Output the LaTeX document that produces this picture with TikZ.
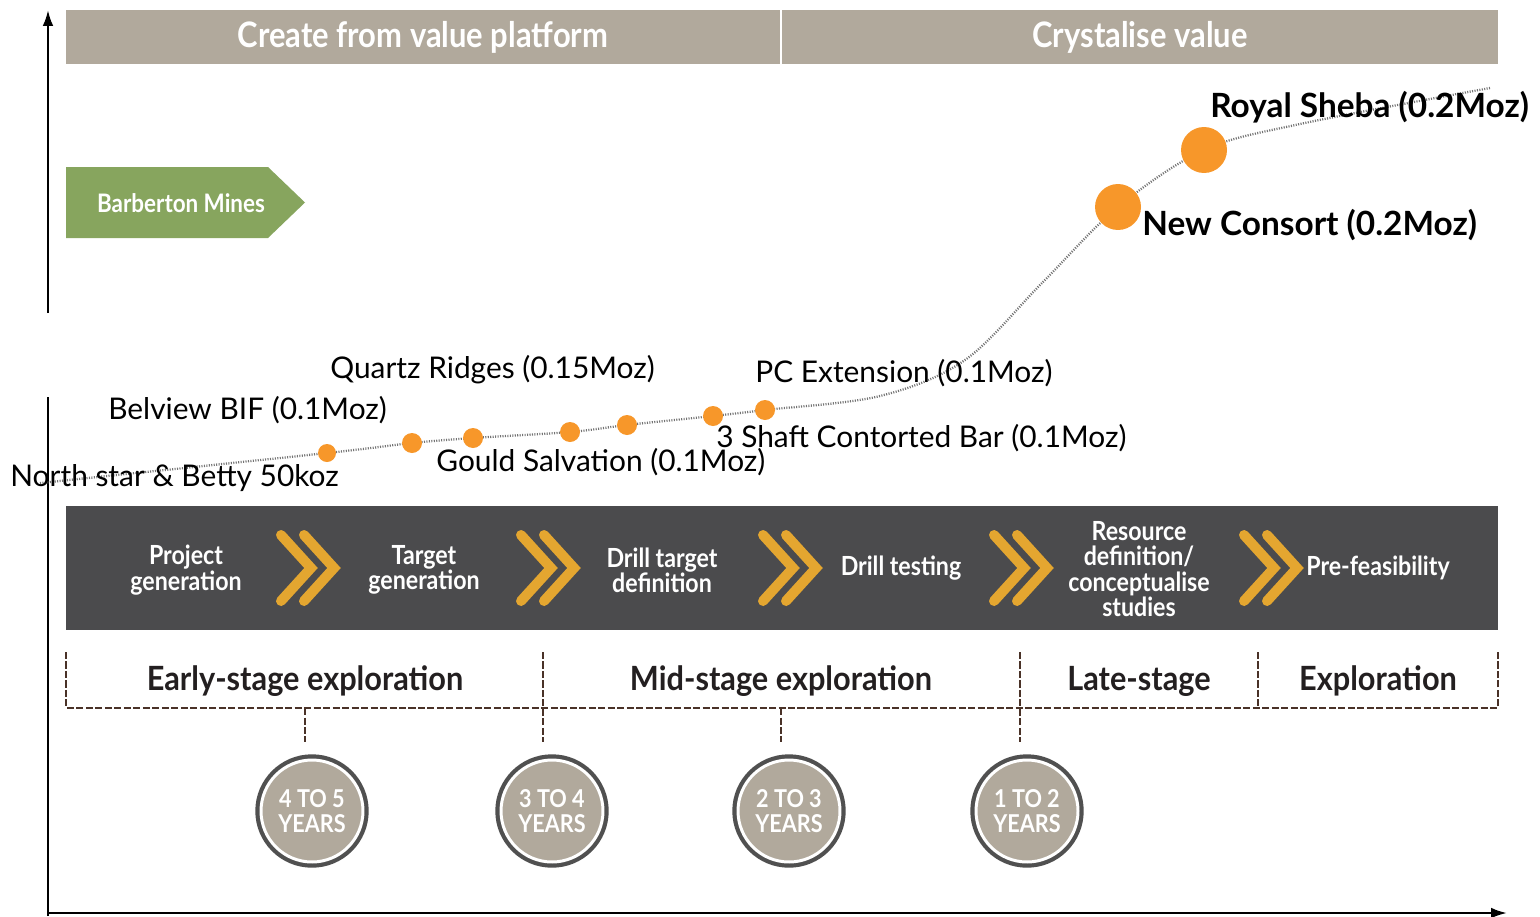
\documentclass[tikz,border=0pt]{standalone}
\usepackage{fontspec}
\setmainfont{Lato}
\newfontfamily\condfont[FakeStretch=0.88]{Lato}
\newfontfamily\semicondfont[FakeStretch=0.92]{Lato}
\usetikzlibrary{arrows.meta}
\definecolor{bannergray}{HTML}{B1A99C}
\definecolor{mgreen}{HTML}{87A55E}
\definecolor{bandgray}{HTML}{4B4B4D}
\definecolor{chevorange}{HTML}{E4A630}
\definecolor{dotorange}{HTML}{F7972A}
\definecolor{dashbrown}{HTML}{4A3228}
\definecolor{ringgray}{HTML}{505050}
\definecolor{darktext}{HTML}{231F20}
\tikzset{
  axisline/.style={line width=1.3pt, black},
  bannerbox/.style={fill=bannergray, minimum height=1.08cm, inner sep=0pt, text=white, font=\condfont\bfseries\fontsize{20pt}{23pt}\selectfont},
  lbl/.style={inner sep=0pt, font=\fontsize{17pt}{20pt}\selectfont, text=black},
  blbl/.style={inner sep=0pt, font=\bfseries\fontsize{19pt}{22pt}\selectfont, text=black},
  smalldot/.style={circle, fill=dotorange, inner sep=0pt, minimum size=0.4cm},
  bigdot/.style={circle, fill=dotorange, inner sep=0pt, minimum size=0.92cm},
  trend/.style={black!55, line width=1.3pt, dash pattern=on 0.6pt off 0.8pt},
  bandtext/.style={text=white, align=center, inner sep=0pt, font=\condfont\bfseries\fontsize{15pt}{14.4pt}\selectfont},
  chevstroke/.style={chevorange, line width=0.2cm, line cap=round, line join=miter},
  dchev/.pic={
    \draw[chevstroke] (6,-33) -- (36,0) -- (6,33);
    \draw[chevstroke] (29,-33) -- (59,0) -- (29,33);
  },
  bracket/.style={dashbrown, line width=0.9pt, dash pattern=on 4pt off 1.4pt},
  stagetext/.style={text=darktext, inner sep=0pt, font=\semicondfont\bfseries\fontsize{19pt}{22pt}\selectfont},
  yrs/.style={circle, minimum size=2.04cm, inner sep=0pt, fill=bannergray, draw=white, line width=1.7pt,
    preaction={draw=ringgray, line width=6.5pt},
    text=white, align=center, font=\condfont\bfseries\fontsize{14pt}{14.6pt}\selectfont},
}
\begin{document}
\begin{tikzpicture}[x=0.02cm, y=-0.02cm]
\useasboundingbox (0,0) rectangle (1540,916);

% axes
\draw[axisline] (48,916) -- (48,397);
\draw[axisline, -{Latex[length=9pt,width=6pt]}] (48,313) -- (48,10);
\draw[axisline, -{Latex[length=9pt,width=6pt]}] (48,913) -- (1507,913);

% top banner
\node[bannerbox, minimum width=14.28cm] (b1) at (423,37) {Create from value platform};
\node[bannerbox, minimum width=14.32cm] (b2) at (1140,37) {Crystalise value};

% Barberton Mines
\fill[mgreen] (66,167) -- (268,167) -- (305,202.5) -- (268,238) -- (66,238) -- cycle;
\node[text=white, inner sep=0pt, font=\condfont\bfseries\fontsize{14.5pt}{16pt}\selectfont] (bm) at (181,203) {Barberton Mines};

% trend points
\coordinate (d1) at (327,453);
\coordinate (d2) at (412,443);
\coordinate (d3) at (473,438);
\coordinate (d4) at (570,432);
\coordinate (d5) at (627,425);
\coordinate (d6) at (713,416);
\coordinate (d7) at (765,410);
\coordinate (d8) at (1118,207);
\coordinate (d9) at (1204,150);
\coordinate (t0) at (40,483);
\coordinate (tA) at (880,396);
\coordinate (tB) at (965,360);
\coordinate (tC) at (1042,283);
\coordinate (tD) at (1300,124);
\coordinate (tE) at (1490,88);
\draw[trend] plot[smooth, tension=0.55] coordinates {(t0) (d1) (d2) (d3) (d4) (d5) (d6) (d7) (tA) (tB) (tC) (d8) (d9) (tD) (tE)};
\node[smalldot, minimum size=0.36cm] (n1) at (d1) {};
\node[smalldot] (n2) at (d2) {};
\node[smalldot] (n3) at (d3) {};
\node[smalldot] (n4) at (d4) {};
\node[smalldot] (n5) at (d5) {};
\node[smalldot] (n6) at (d6) {};
\node[smalldot] (n7) at (d7) {};
\node[bigdot] (n8) at (d8) {};
\node[bigdot] (n9) at (d9) {};

% labels
\node[lbl, anchor=west] (l1) at (10,478) {North star \& Betty 50koz};
\node[lbl, anchor=west] (l2) at (108,410) {Belview BIF (0.1Moz)};
\node[lbl, anchor=west] (l3) at (330,370) {Quartz Ridges (0.15Moz)};
\node[lbl, anchor=west] (l4) at (436,462) {Gould Salvation (0.1Moz)};
\node[lbl, anchor=west] (l5) at (755,373) {PC Extension (0.1Moz)};
\node[lbl, anchor=west] (l6) at (716,438) {3 Shaft Contorted Bar (0.1Moz)};
\node[blbl, anchor=west] (l7) at (1210,107) {Royal Sheba (0.2Moz)};
\node[blbl, anchor=west] (l8) at (1142,225) {New Consort (0.2Moz)};

% dark band
\node[fill=bandgray, minimum width=28.64cm, minimum height=2.48cm, inner sep=0pt] (band) at (782,568) {};
\node[bandtext] (p1) at (186,570) {Project\\generation};
\node[bandtext] (p2) at (424,570) {Target\\generation};
\node[bandtext] (p3) at (662,570) {Drill target\\definition};
\node[bandtext] (p4) at (901,568) {Drill testing};
\node[bandtext] (p5) at (1139,569) {Resource\\definition/\\conceptualise\\studies};
\node[bandtext] (p6) at (1378,568) {Pre-feasibility};
\pic at (275,568) {dchev};
\pic at (515,568) {dchev};
\pic at (757,568) {dchev};
\pic at (988,568) {dchev};
\pic at (1238,568) {dchev};

% stage brackets
\coordinate (s0) at (66,652);
\coordinate (s1) at (543,652);
\coordinate (s2) at (1020,652);
\coordinate (s3) at (1258,652);
\coordinate (s4) at (1498,652);
\coordinate (h0) at (66,708);
\coordinate (h4) at (1498,708);
\draw[bracket] (s0) -- (h0) -- (h4) -- (s4);
\draw[bracket] (s1) -- (543,742);
\draw[bracket] (s2) -- (1020,742);
\draw[bracket] (s3) -- (1258,708);
\draw[bracket] (305,708) -- (305,742);
\draw[bracket] (781,708) -- (781,742);
\node[stagetext] (e1) at (305,681) {Early-stage exploration};
\node[stagetext] (e2) at (781,681) {Mid-stage exploration};
\node[stagetext] (e3) at (1139,681) {Late-stage};
\node[stagetext] (e4) at (1378,681) {Exploration};

% year circles
\node[yrs] (y1) at (312,811) {4 TO 5\\YEARS};
\node[yrs] (y2) at (552,811) {3 TO 4\\YEARS};
\node[yrs] (y3) at (789,811) {2 TO 3\\YEARS};
\node[yrs] (y4) at (1027,811) {1 TO 2\\YEARS};
\end{tikzpicture}
\end{document}
